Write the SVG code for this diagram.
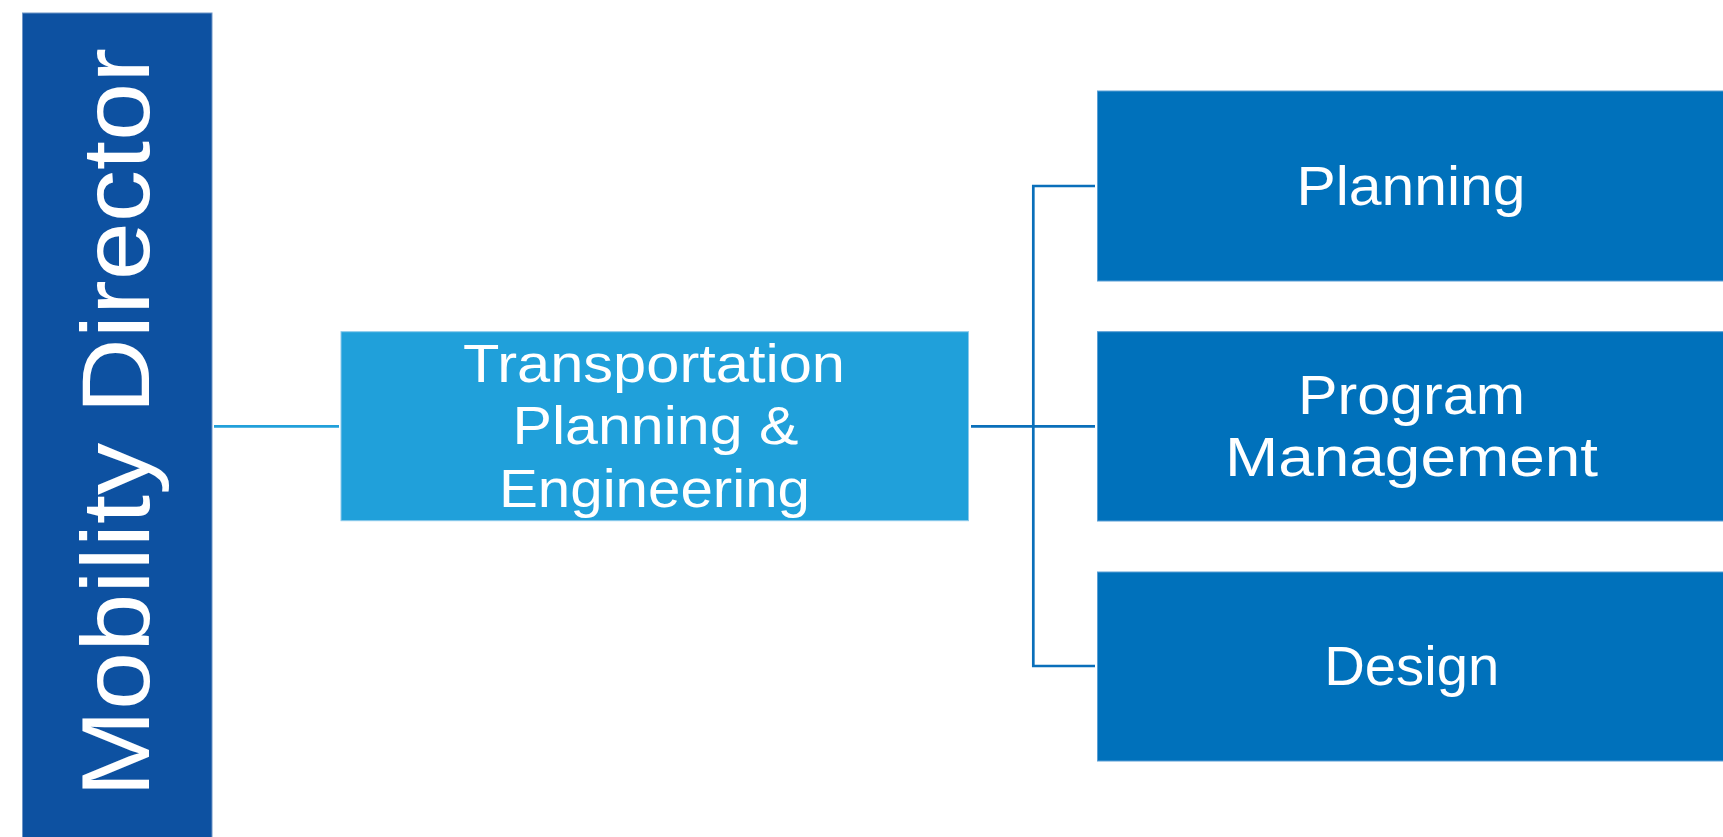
<svg xmlns="http://www.w3.org/2000/svg" width="1723" height="837" viewBox="0 0 1723 837">
<style>
.t{font-family:"Liberation Sans","DejaVu Sans",sans-serif;fill:#ffffff;text-anchor:middle}
.sub{fill:#0071bb;stroke:#5a9fd6;stroke-width:1}
.conn{fill:none;stroke-width:2.7}
</style>
<rect width="1723" height="837" fill="#ffffff"/>
<g id="connectors">
<line class="conn" x1="214" y1="426.3" x2="339" y2="426.3" stroke="#22a0da"/>
<line class="conn" x1="971" y1="426.3" x2="1095" y2="426.3" stroke="#0a6fba"/>
<polyline class="conn" points="1095,186 1033.3,186 1033.3,666 1095,666" stroke="#0a6fba"/>
</g>
<g id="mobility-director">
<rect x="22.5" y="13" width="189.5" height="830" fill="#0d51a1" stroke="#6f95c6" stroke-width="1"/>
<text class="t" transform="translate(149,422.5) rotate(-90)" font-size="96" textLength="749" lengthAdjust="spacingAndGlyphs">Mobility Director</text>
</g>
<g id="transportation">
<rect x="341" y="331.7" width="627.5" height="189" fill="#20a0da" stroke="#8ccaec" stroke-width="1"/>
<text class="t" font-size="54"><tspan x="654" y="381.7" textLength="382" lengthAdjust="spacingAndGlyphs">Transportation</tspan><tspan x="655.5" y="444.3" textLength="286" lengthAdjust="spacingAndGlyphs">Planning &amp;</tspan><tspan x="654.5" y="506.7" textLength="311" lengthAdjust="spacingAndGlyphs">Engineering</tspan></text>
</g>
<g id="planning">
<rect class="sub" x="1097.5" y="91" width="630" height="190"/>
<text class="t" x="1411" y="205" font-size="55" textLength="229" lengthAdjust="spacingAndGlyphs">Planning</text>
</g>
<g id="program-management">
<rect class="sub" x="1097.5" y="331.7" width="630" height="189.3"/>
<text class="t" font-size="55"><tspan x="1411.5" y="414" textLength="227" lengthAdjust="spacingAndGlyphs">Program</tspan><tspan x="1411.5" y="475.7" textLength="373" lengthAdjust="spacingAndGlyphs">Management</tspan></text>
</g>
<g id="design">
<rect class="sub" x="1097.5" y="572" width="630" height="189"/>
<text class="t" x="1411.7" y="685" font-size="55" textLength="175" lengthAdjust="spacingAndGlyphs">Design</text>
</g>
</svg>
